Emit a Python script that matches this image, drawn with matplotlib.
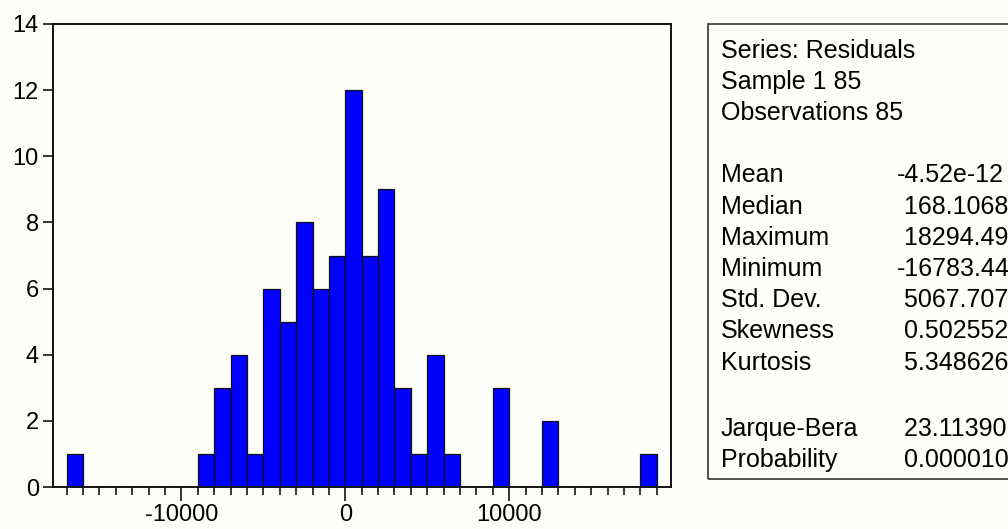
import numpy as np
import matplotlib
matplotlib.use("Agg")
import matplotlib.pyplot as plt
from matplotlib.ticker import MultipleLocator
from matplotlib.patches import Rectangle

# histogram of residuals, bins of width 1000 starting at -17000
bin_starts = list(range(-17000, 19000, 1000))
counts = [1, 0, 0, 0, 0, 0, 0, 0,
          1, 3, 4, 1, 6, 5, 8, 6, 7,
          12, 7, 9, 3, 1, 4, 1,
          0, 0, 3, 0, 0, 2,
          0, 0, 0, 0, 0, 1]

stat_header = ["Series: Residuals", "Sample 1 85", "Observations 85"]
stat_names = ["Mean", "Median", "Maximum", "Minimum", "Std. Dev.",
              "Skewness", "Kurtosis"]
stat_values = ["-4.52e-12", "168.1068", "18294.49", "-16783.44", "5067.707",
               "0.502552", "5.348626"]
test_names = ["Jarque-Bera", "Probability"]
test_values = ["23.11390", "0.000010"]

W, H = 1008, 529
plt.rcParams['font.family'] = ['Liberation Sans', 'DejaVu Sans']
plt.rcParams['axes.unicode_minus'] = False
FS = 17     # tick labels
FS_BOX = 18  # statistics text

bg = '#fdfdf9'
fig = plt.figure(figsize=(W / 100, H / 100), dpi=100, facecolor=bg)


def px(x, y):
    return x / W, 1 - y / H


l, t = px(52.7, 24)
r, b = px(670.7, 487)
ax = fig.add_axes([l, b, r - l, t - b])
ax.set_facecolor(bg)

nz = [i for i, c in enumerate(counts) if c > 0]
ax.bar([bin_starts[i] for i in nz], [counts[i] for i in nz], width=1000,
       align='edge', color='#0000ff', edgecolor='#111111', linewidth=0.9)

ax.set_xlim(-17850, 19850)
ax.set_ylim(0, 14)
ax.xaxis.set_major_locator(MultipleLocator(10000))
ax.xaxis.set_minor_locator(MultipleLocator(1000))
ax.yaxis.set_major_locator(MultipleLocator(2))
ax.tick_params(axis='x', which='major', direction='out', length=10, width=1.1,
               labelsize=FS, pad=2, top=False)
ax.tick_params(axis='x', which='minor', direction='out', length=5.5, width=1.1,
               top=False)
ax.tick_params(axis='y', which='major', direction='out', length=7, width=1.1,
               labelsize=FS, pad=3, right=False)
for s in ax.spines.values():
    s.set_linewidth(1.4)
    s.set_color('#111111')

# statistics box
x0, y0 = px(707.5, 24)
x1, y1 = px(1012, 479)
fig.patches.append(Rectangle((x0, y1), x1 - x0, y0 - y1, transform=fig.transFigure,
                             fill=False, edgecolor='#222222', linewidth=1.1))

lx, vx = 721 / W, 897 / W
step = 31.2
base = 57.5


def val(v):
    return v if v.startswith('-') else ' ' + v


for i, txt in enumerate(stat_header):
    fig.text(lx, 1 - (base + i * step) / H, txt, fontsize=FS_BOX, va='baseline')
for i, (n, v) in enumerate(zip(stat_names, stat_values)):
    y = 1 - (base + (i + 4) * step) / H
    fig.text(lx, y, n, fontsize=FS_BOX, va='baseline')
    fig.text(vx, y, val(v), fontsize=FS_BOX, va='baseline')
for i, (n, v) in enumerate(zip(test_names, test_values)):
    y = 1 - (base + 4 + (i + 12) * step) / H
    fig.text(lx, y, n, fontsize=FS_BOX, va='baseline')
    fig.text(vx, y, val(v), fontsize=FS_BOX, va='baseline')

fig.savefig("out.png", dpi=100, facecolor=bg)
